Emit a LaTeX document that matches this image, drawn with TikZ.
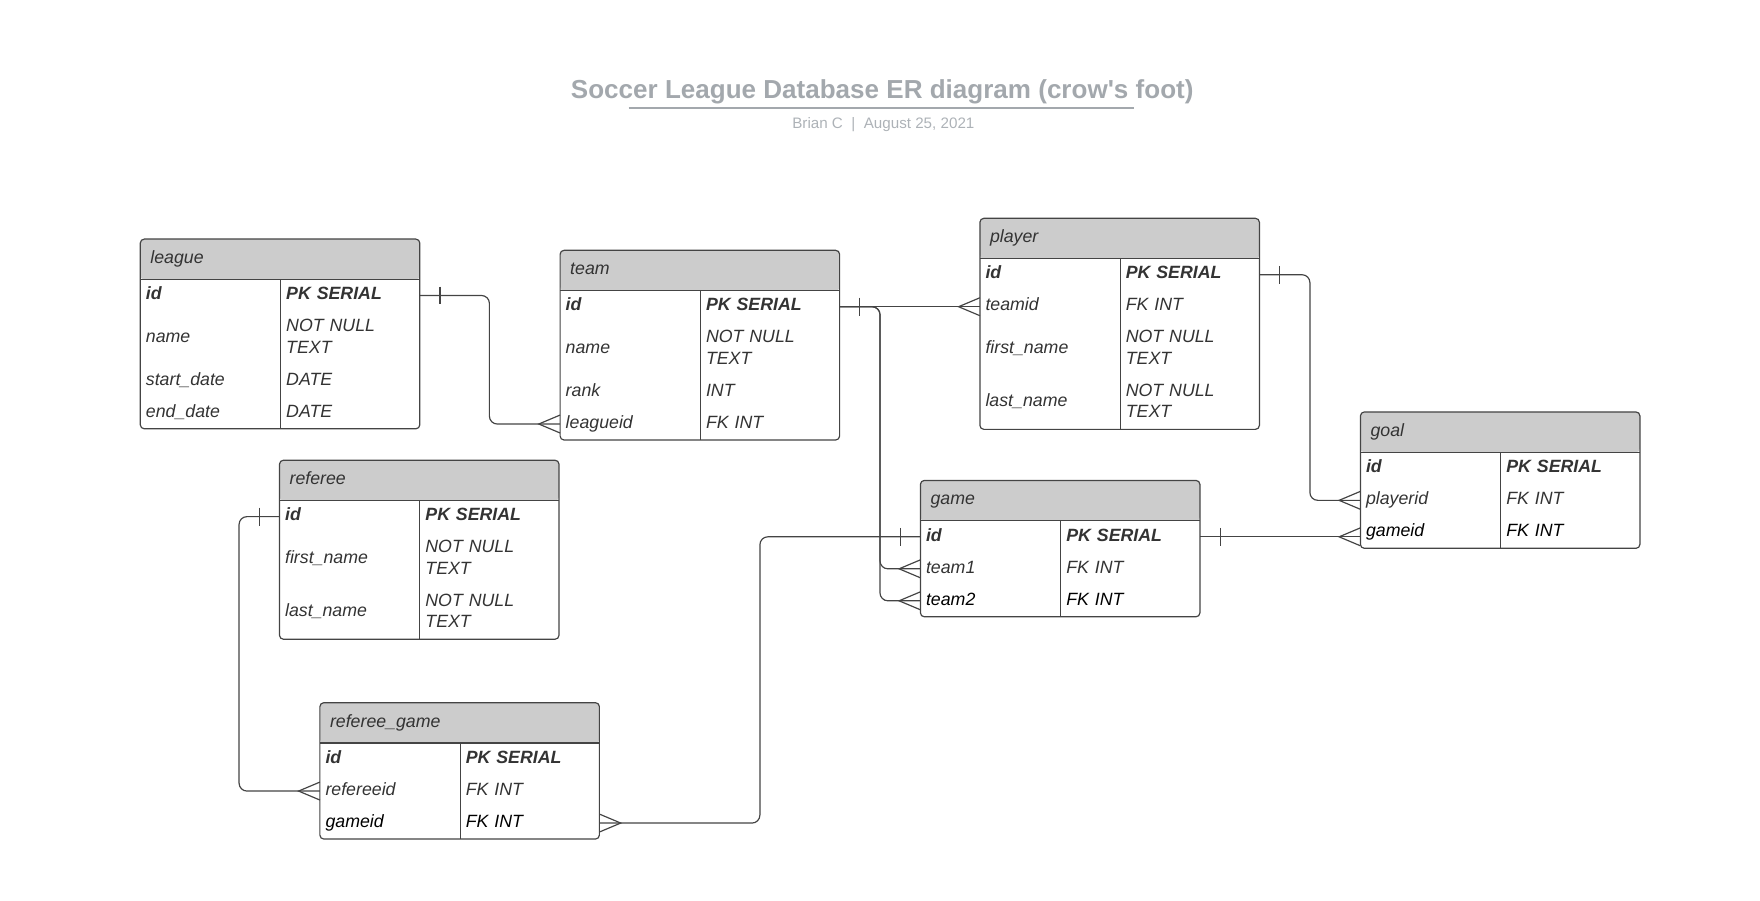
\documentclass[tikz,border=0pt]{standalone}
\usepackage{fontspec}
\setmainfont{Liberation Sans}
\definecolor{ink}{HTML}{333333}
\definecolor{edge}{HTML}{444444}
\definecolor{headfill}{HTML}{CCCCCC}
\definecolor{titlegray}{HTML}{A3A8AD}
\definecolor{subgray}{HTML}{ADB2B7}
\begin{document}
\begin{tikzpicture}[
    head/.style={anchor=north west,fill=headfill,rounded corners=2pt,minimum height=0.72cm,text width=4.62cm,inner xsep=0.18cm,inner ysep=0pt,outer sep=0pt,align=left,font=\fontsize{9}{10.8}\selectfont\itshape,text=ink,execute at begin node=\strut},
    fld/.style={anchor=north west,minimum height=0.57cm,text width=2.3cm,inner xsep=0.1cm,inner ysep=0pt,outer sep=0pt,align=left,font=\fontsize{9}{10.8}\selectfont\itshape,text=ink,execute at begin node=\strut,execute at end node=\strut},
    typ/.style={fld,text width=2.28cm},
    tall/.style={minimum height=0.95cm},
    pk/.style={font=\fontsize{9}{10.8}\selectfont\bfseries\itshape},
    dark/.style={text=black},
    frame/.style={draw=edge,line width=0.6pt,rounded corners=2pt},
    rule/.style={draw=edge,line width=0.6pt},
    link/.style={draw=edge,line width=0.6pt,rounded corners=4pt},
    crow/.pic={\draw[edge,line width=0.6pt] (0,0.16) -- (-0.38,0) -- (0,-0.16);},
    onebar/.pic={\draw[edge,line width=0.6pt] (0,0.16) -- (0,-0.16);}
]
\useasboundingbox (0,0) rectangle (31.36,-16.04);

\node[font=\fontsize{13.2}{16}\selectfont\bfseries,text=titlegray] (title) at (15.72,-1.64) {Soccer League Database ER diagram (crow\textquotesingle s foot)};
\draw[titlegray,line width=1.2pt] (11.20,-1.92) -- (20.20,-1.92);
\node[font=\fontsize{7.7}{9}\selectfont,text=subgray] (byline) at (15.74,-2.22) {Brian C~~|~~August 25, 2021};

\node[head] (league) at (2.50,-4.26) {league};
\node[fld,pk] (league-id) at (league.south west) {id};
\node[typ,pk] (league-idt) at (league-id.north east) {PK SERIAL};
\node[fld,tall] (league-name) at (league-id.south west) {name};
\node[typ,tall] (league-namet) at (league-name.north east) {NOT NULL\\TEXT};
\node[fld] (league-start) at (league-name.south west) {start\_date};
\node[typ] (league-startt) at (league-start.north east) {DATE};
\node[fld] (league-end) at (league-start.south west) {end\_date};
\node[typ] (league-endt) at (league-end.north east) {DATE};
\draw[frame] (league.north west) rectangle (league-endt.south east);
\draw[rule] (league.south west) -- (league.south east);
\draw[rule] (league-idt.north west) -- (league-endt.south west);

\node[head] (team) at (9.98,-4.46) {team};
\node[fld,pk] (team-id) at (team.south west) {id};
\node[typ,pk] (team-idt) at (team-id.north east) {PK SERIAL};
\node[fld,tall] (team-name) at (team-id.south west) {name};
\node[typ,tall] (team-namet) at (team-name.north east) {NOT NULL\\TEXT};
\node[fld] (team-rank) at (team-name.south west) {rank};
\node[typ] (team-rankt) at (team-rank.north east) {INT};
\node[fld] (team-lid) at (team-rank.south west) {leagueid};
\node[typ] (team-lidt) at (team-lid.north east) {FK INT};
\draw[frame] (team.north west) rectangle (team-lidt.south east);
\draw[rule] (team.south west) -- (team.south east);
\draw[rule] (team-idt.north west) -- (team-lidt.south west);

\node[head] (player) at (17.46,-3.89) {player};
\node[fld,pk] (player-id) at (player.south west) {id};
\node[typ,pk] (player-idt) at (player-id.north east) {PK SERIAL};
\node[fld] (player-tid) at (player-id.south west) {teamid};
\node[typ] (player-tidt) at (player-tid.north east) {FK INT};
\node[fld,tall] (player-first) at (player-tid.south west) {first\_name};
\node[typ,tall] (player-firstt) at (player-first.north east) {NOT NULL\\TEXT};
\node[fld,tall] (player-last) at (player-first.south west) {last\_name};
\node[typ,tall] (player-lastt) at (player-last.north east) {NOT NULL\\TEXT};
\draw[frame] (player.north west) rectangle (player-lastt.south east);
\draw[rule] (player.south west) -- (player.south east);
\draw[rule] (player-idt.north west) -- (player-lastt.south west);

\node[head] (referee) at (4.98,-8.20) {referee};
\node[fld,pk] (referee-id) at (referee.south west) {id};
\node[typ,pk] (referee-idt) at (referee-id.north east) {PK SERIAL};
\node[fld,tall] (referee-first) at (referee-id.south west) {first\_name};
\node[typ,tall] (referee-firstt) at (referee-first.north east) {NOT NULL\\TEXT};
\node[fld,tall] (referee-last) at (referee-first.south west) {last\_name};
\node[typ,tall] (referee-lastt) at (referee-last.north east) {NOT NULL\\TEXT};
\draw[frame] (referee.north west) rectangle (referee-lastt.south east);
\draw[rule] (referee.south west) -- (referee.south east);
\draw[rule] (referee-idt.north west) -- (referee-lastt.south west);

\node[head] (game) at (16.40,-8.56) {game};
\node[fld,pk] (game-id) at (game.south west) {id};
\node[typ,pk] (game-idt) at (game-id.north east) {PK SERIAL};
\node[fld] (game-t1) at (game-id.south west) {team1};
\node[typ] (game-t1t) at (game-t1.north east) {FK INT};
\node[fld,dark] (game-t2) at (game-t1.south west) {team2};
\node[typ,dark] (game-t2t) at (game-t2.north east) {FK INT};
\draw[frame] (game.north west) rectangle (game-t2t.south east);
\draw[rule] (game.south west) -- (game.south east);
\draw[rule] (game-idt.north west) -- (game-t2t.south west);

\node[head] (goal) at (24.24,-7.34) {goal};
\node[fld,pk] (goal-id) at (goal.south west) {id};
\node[typ,pk] (goal-idt) at (goal-id.north east) {PK SERIAL};
\node[fld] (goal-pid) at (goal-id.south west) {playerid};
\node[typ] (goal-pidt) at (goal-pid.north east) {FK INT};
\node[fld,dark] (goal-gid) at (goal-pid.south west) {gameid};
\node[typ,dark] (goal-gidt) at (goal-gid.north east) {FK INT};
\draw[frame] (goal.north west) rectangle (goal-gidt.south east);
\draw[rule] (goal.south west) -- (goal.south east);
\draw[rule] (goal-idt.north west) -- (goal-gidt.south west);

\node[head] (rg) at (5.70,-12.52) {referee\_game};
\node[fld,pk] (rg-id) at (rg.south west) {id};
\node[typ,pk] (rg-idt) at (rg-id.north east) {PK SERIAL};
\node[fld] (rg-rid) at (rg-id.south west) {refereeid};
\node[typ] (rg-ridt) at (rg-rid.north east) {FK INT};
\node[fld,dark] (rg-gid) at (rg-rid.south west) {gameid};
\node[typ,dark] (rg-gidt) at (rg-gid.north east) {FK INT};
\draw[frame] (rg.north west) rectangle (rg-gidt.south east);
\draw[rule] (rg.south west) -- (rg.south east);
\draw[rule] (rg-idt.north west) -- (rg-gidt.south west);

\draw[link] (league-idt.east) -- ++(1.24,0) |- (team-lid.west);
\pic at ([xshift=0.36cm]league-idt.east) {onebar};
\pic at (team-lid.west) {crow};

\draw[link] (team-idt.east) -- (player-tid.west);
\draw[link] (team-idt.east) -- ++(0.72,0) |- (game-t1.west);
\draw[link] (team-idt.east) -- ++(0.72,0) |- (game-t2.west);
\pic at ([xshift=0.36cm]team-idt.east) {onebar};
\pic at (player-tid.west) {crow};
\pic at (game-t1.west) {crow};
\pic at (game-t2.west) {crow};

\draw[link] (player-idt.east) -- ++(0.90,0) |- (goal-pid.west);
\pic at ([xshift=0.36cm]player-idt.east) {onebar};
\pic at (goal-pid.west) {crow};

\draw[link] (game-idt.east) -- (game-idt.east -| goal-gid.west);
\pic at ([xshift=0.36cm]game-idt.east) {onebar};
\pic at (game-idt.east -| goal-gid.west) {crow};

\draw[link] (referee-id.west) -- ++(-0.72,0) |- (rg-rid.west);
\pic at ([xshift=-0.36cm]referee-id.west) {onebar};
\pic at (rg-rid.west) {crow};

\draw[link] (game-id.west) -- ++(-2.86,0) |- (rg-gidt.east);
\pic at ([xshift=-0.36cm]game-id.west) {onebar};
\pic[rotate=180] at (rg-gidt.east) {crow};
\end{tikzpicture}
\end{document}
